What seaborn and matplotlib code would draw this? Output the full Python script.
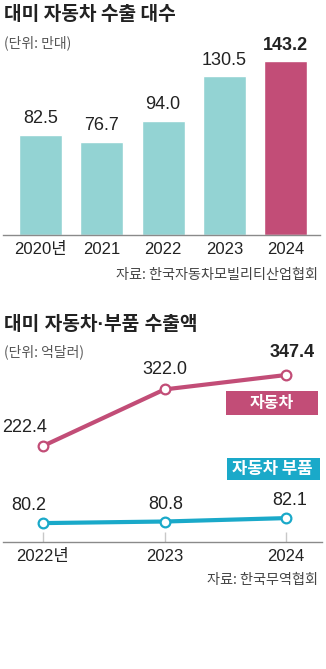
import matplotlib
matplotlib.use("Agg")
import matplotlib.pyplot as plt
import numpy as np
import pandas as pd
import seaborn as sns
from matplotlib.patches import Rectangle

# ---- data ----
unit_years = ["2020년", "2021", "2022", "2023", "2024"]
unit_values = [82.5, 76.7, 94.0, 130.5, 143.2]
value_years = ["2022년", "2023", "2024"]
car_values = [222.4, 322.0, 347.4]
parts_values = [80.2, 80.8, 82.1]

TEAL = "#93d3d3"
PINK = "#c24d77"
CYAN = "#1aa9c9"
DARK = "#222222"
GRAY = "#8a8a8a"

sns.set_theme(style="white")
plt.rcParams["font.family"] = ["Liberation Sans", "Noto Sans CJK KR", "DejaVu Sans"]
KR = ["Noto Sans CJK KR", "DejaVu Sans"]
MIX = ["Liberation Sans", "Noto Sans CJK KR", "DejaVu Sans"]

W, H = 326, 669
fig = plt.figure(figsize=(W / 100, H / 100), dpi=100)
fig.patch.set_facecolor("white")


def ax_px(left, top, right, bottom):
    return fig.add_axes([left / W, 1 - bottom / H, (right - left) / W, (bottom - top) / H])


def ftext(x, y, s, **kw):
    fig.text(x / W, 1 - y / H, s, **kw)


# ---------------- top chart: bars ----------------
ftext(4, 14, "대미 자동차 수출 대수", family=KR, fontsize=13.8, fontweight="bold",
      color=DARK, ha="left", va="center")
ftext(4, 43, "(단위: 만대)", family=KR, fontsize=10, color="#555555", ha="left", va="center")

ax1 = ax_px(3, 40, 320, 235)
df1 = pd.DataFrame({"year": unit_years, "value": unit_values})
palette1 = [TEAL] * (len(unit_years) - 1) + [PINK]
sns.barplot(data=df1, x="year", y="value", hue="year", palette=palette1,
            width=0.7, saturation=1, legend=False, ax=ax1)
ax1.set_xlim(-0.612, 4.56)
ax1.set_ylim(0, 195 / 1.215)
for s in ["top", "right", "left"]:
    ax1.spines[s].set_visible(False)
ax1.spines["bottom"].set_color(GRAY)
ax1.spines["bottom"].set_linewidth(1)
ax1.set_yticks([])
ax1.set_xlabel("")
ax1.set_ylabel("")
ax1.tick_params(axis="x", length=0, pad=5, labelsize=12, colors=DARK)
ax1.set_facecolor("none")
for i, v in enumerate(unit_values):
    last = i == len(unit_values) - 1
    ax1.annotate(f"{v:.1f}", xy=(i, v), xytext=(0, 11.5), textcoords="offset points",
                 ha="center", va="center", fontsize=13,
                 fontweight="bold" if last else "normal", color=DARK)

ftext(318, 275, "자료: 한국자동차모빌리티산업협회", family=KR, fontsize=10.2,
      color="#444444", ha="right", va="center")

# ---------------- bottom chart: lines ----------------
ftext(4, 325, "대미 자동차·부품 수출액", family=MIX, fontsize=13.8, fontweight="bold",
      color=DARK, ha="left", va="center")
ftext(4, 352, "(단위: 억달러)", family=KR, fontsize=10, color="#555555", ha="left", va="center")

xs = np.arange(len(value_years))
xlim = (-0.329, 2.296)

ax2 = ax_px(3, 360, 322, 460)
sns.lineplot(x=xs, y=car_values, color=PINK, linewidth=3, marker="o", markersize=7,
             markerfacecolor="white", markeredgecolor=PINK, markeredgewidth=1.6, ax=ax2)
ax2.set_xlim(*xlim)
ax2.set_ylim(197.8, 373.8)
ax2.axis("off")

ax3 = ax_px(3, 495, 322, 542)
sns.lineplot(x=xs, y=parts_values, color=CYAN, linewidth=3, marker="o", markersize=7,
             markerfacecolor="white", markeredgecolor=CYAN, markeredgewidth=1.6, ax=ax3)
ax3.set_xlim(*xlim)
ax3.set_ylim(73.0, 90.9)
ax3.set_facecolor("none")
for s in ["top", "right", "left"]:
    ax3.spines[s].set_visible(False)
ax3.spines["bottom"].set_color(GRAY)
ax3.spines["bottom"].set_linewidth(1)
ax3.set_yticks([])
ax3.set_xticks(xs)
ax3.set_xticklabels(value_years)
ax3.tick_params(axis="x", direction="in", length=7, width=1, color="#c8c8c8",
                pad=5, labelsize=12, labelcolor=DARK, bottom=True)
ax3.set_zorder(0)
ax2.set_zorder(1)

# value labels (offsets in points)
car_off = [(-13, 13), (0, 14.5), (4.5, 16)]
for i, v in enumerate(car_values):
    last = i == len(car_values) - 1
    ax2.annotate(f"{v:.1f}", xy=(i, v), xytext=car_off[i], textcoords="offset points",
                 ha="center", va="center", fontsize=13,
                 fontweight="bold" if last else "normal", color=DARK)
parts_off = [(-10, 13), (1, 12.5), (2.5, 12.5)]
for i, v in enumerate(parts_values):
    ax3.annotate(f"{v:.1f}", xy=(i, v), xytext=parts_off[i], textcoords="offset points",
                 ha="center", va="center", fontsize=13, color=DARK)

# label boxes
fig.add_artist(Rectangle((226 / W, 1 - 415 / H), 92 / W, 24 / H,
                         transform=fig.transFigure, facecolor=PINK, edgecolor="none"))
ftext(272, 403, "자동차", family=KR, fontsize=11.5, fontweight="bold", color="white",
      ha="center", va="center")
fig.add_artist(Rectangle((227 / W, 1 - 480 / H), 93 / W, 22 / H,
                         transform=fig.transFigure, facecolor=CYAN, edgecolor="none"))
ftext(272, 469, "자동차 부품", family=KR, fontsize=12, fontweight="bold", color="white",
      ha="center", va="center")

ftext(318, 580, "자료: 한국무역협회", family=KR, fontsize=10.2, color="#444444",
      ha="right", va="center")

fig.savefig("out.png", dpi=100, facecolor="white")
